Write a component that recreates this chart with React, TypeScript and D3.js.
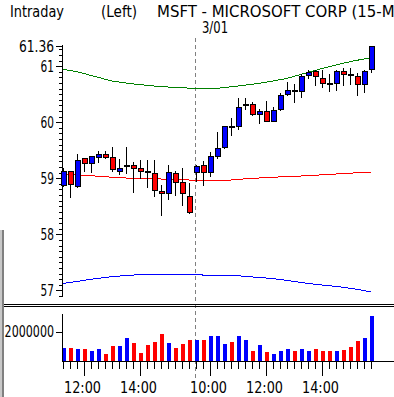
import * as d3 from 'd3'

// 15-minute bars, 2/28 (tail of the session) and 3/01 (full session)
const BAR_TIMES = [
  '02/28 11:15', '02/28 11:30', '02/28 11:45', '02/28 12:00', '02/28 12:15', '02/28 12:30', '02/28 12:45',
  '02/28 13:00', '02/28 13:15', '02/28 13:30', '02/28 13:45', '02/28 14:00', '02/28 14:15', '02/28 14:30',
  '02/28 14:45', '02/28 15:00', '02/28 15:15', '02/28 15:30', '02/28 15:45',
  '03/01 09:30', '03/01 09:45', '03/01 10:00', '03/01 10:15', '03/01 10:30', '03/01 10:45', '03/01 11:00',
  '03/01 11:15', '03/01 11:30', '03/01 11:45', '03/01 12:00', '03/01 12:15', '03/01 12:30', '03/01 12:45',
  '03/01 13:00', '03/01 13:15', '03/01 13:30', '03/01 13:45', '03/01 14:00', '03/01 14:15', '03/01 14:30',
  '03/01 14:45', '03/01 15:00', '03/01 15:15', '03/01 15:30', '03/01 15:45',
]

const OPEN = [
  58.88, 59.12, 58.86, 59.35, 59.27, 59.37, 59.43, 59.37, 59.13, 59.22, 59.22, 59.18, 59.11, 59.09, 58.77,
  58.72, 59.09, 58.93, 58.67,
  59.10, 59.22, 59.10, 59.39, 59.55, 59.91, 59.92, 60.31, 60.31, 60.14, 60.20, 60.01, 60.22, 60.50, 60.56,
  60.54, 60.83, 60.90, 60.78, 60.68, 60.69, 60.91, 60.84, 60.82, 60.68, 60.94,
]
const HIGH = [
  59.19, 59.13, 59.43, 59.37, 59.39, 59.48, 59.48, 59.55, 59.34, 59.55, 59.29, 59.33, 59.33, 59.33, 58.88,
  59.24, 59.13, 59.18, 58.91,
  59.24, 59.31, 59.47, 59.83, 59.93, 60.07, 60.43, 60.44, 60.36, 60.23, 60.38, 60.27, 60.53, 60.71, 60.69,
  60.86, 60.93, 60.94, 60.93, 60.86, 60.94, 60.96, 60.96, 60.88, 60.94, 61.36,
]
const LOW = [
  58.84, 58.64, 58.82, 59.12, 59.09, 59.28, 59.34, 59.12, 59.06, 59.08, 58.74, 58.98, 58.82, 58.67, 58.33,
  58.62, 58.69, 58.51, 58.36,
  58.94, 58.87, 59.03, 59.34, 59.52, 59.75, 59.87, 60.22, 60.11, 59.96, 60.00, 60.00, 60.20, 60.46, 60.34,
  60.44, 60.78, 60.65, 60.61, 60.54, 60.56, 60.65, 60.66, 60.46, 60.53, 60.88,
]
const CLOSE = [
  59.12, 58.89, 59.31, 59.27, 59.38, 59.43, 59.37, 59.15, 59.18, 59.22, 59.17, 59.12, 59.11, 58.79, 58.73,
  59.11, 58.93, 58.72, 58.39,
  59.21, 59.10, 59.39, 59.54, 59.92, 59.91, 60.27, 60.31, 60.14, 60.20, 60.01, 60.21, 60.47, 60.56, 60.56,
  60.82, 60.88, 60.81, 60.69, 60.68, 60.91, 60.86, 60.84, 60.68, 60.91, 61.35,
]
const VOLUME = [
  924000, 924000, 855000, 855000, 669000, 855000, 462000, 1014000, 1014000, 1614000, 1269000, 579000,
  1083000, 1338000, 1841000, 1269000, 924000, 1152000, 1476000,
  1476000, 1476000, 1706000, 1706000, 1200000, 1338000, 1706000, 1476000, 716000, 1083000, 646000, 508000,
  716000, 855000, 716000, 855000, 716000, 855000, 716000, 716000, 716000, 785000, 990000, 1407000, 1614000,
  3085000,
]
// envelope lines: upper (green), middle (red), lower (blue)
const UPPER = [
  60.944, 60.923, 60.901, 60.869, 60.834, 60.802, 60.768, 60.736, 60.718, 60.700, 60.683, 60.670, 60.659,
  60.646, 60.634, 60.629, 60.621, 60.614, 60.609, 60.605, 60.605, 60.605, 60.605, 60.620, 60.632, 60.646,
  60.661, 60.677, 60.693, 60.714, 60.736, 60.759, 60.782, 60.818, 60.853, 60.891, 60.923, 60.959, 60.991,
  61.021, 61.051, 61.080, 61.105, 61.128, 61.151,
]
const MIDDLE = [
  59.076, 59.069, 59.062, 59.053, 59.046, 59.037, 59.028, 59.019, 59.012, 59.005, 59.000, 58.996, 58.992,
  58.991, 58.987, 58.983, 58.980, 58.974, 58.969, 58.967, 58.966, 58.966, 58.966, 58.966, 58.969, 58.980,
  58.991, 59.000, 59.005, 59.010, 59.017, 59.025, 59.030, 59.035, 59.041, 59.048, 59.055, 59.062, 59.069,
  59.076, 59.083, 59.091, 59.098, 59.105, 59.112,
]
const LOWER = [
  57.126, 57.142, 57.160, 57.180, 57.198, 57.214, 57.230, 57.244, 57.255, 57.264, 57.274, 57.280, 57.285,
  57.289, 57.292, 57.292, 57.290, 57.289, 57.287, 57.282, 57.274, 57.271, 57.269, 57.269, 57.267, 57.262,
  57.251, 57.241, 57.230, 57.221, 57.208, 57.196, 57.176, 57.160, 57.142, 57.124, 57.110, 57.096, 57.083,
  57.073, 57.055, 57.037, 57.019, 56.996, 56.971,
]

const PRICE_TICKS = [57, 58, 59, 60, 61, 61.36]
const VOLUME_TICKS = [2000000]
const TIME_TICKS = ['02/28 12:00', '02/28 14:00', '03/01 10:00', '03/01 12:00', '03/01 14:00']
const DAY_START = '03/01 09:30'

const W = 394
const H = 397
const AXIS_X = 62
const VOL_BASE = 361
const BLUE = '#0000ff'
const RED = '#ff0000'
const GREEN = '#008000'
const FONT = "'Liberation Sans Narrow', 'DejaVu Sans Condensed', 'Liberation Sans', sans-serif"
const CHAR_W = 7.2

const fmtPrice = (v: number) => (Number.isInteger(v) ? String(v) : v.toFixed(2))

export default function App() {
  const x = d3.scalePoint<string>().domain(BAR_TIMES).range([63, 371])
  const yP = d3.scaleLinear().domain([56.9, 61.36]).range([296, 46])
  const yV = d3.scaleLinear().domain([0, 2000000]).range([VOL_BASE, 332])

  const band = (vals: number[]) =>
    d3.line<number>()
      .x((_d, i) => x(BAR_TIMES[i])!)
      .y(d => yP(d))(vals) ?? ''

  const minor = yP.ticks(50)

  const volColor = (i: number) => {
    if (CLOSE[i] > OPEN[i]) return BLUE
    if (CLOSE[i] < OPEN[i]) return RED
    return i > 0 && CLOSE[i] > CLOSE[i - 1] ? BLUE : RED
  }

  const dayX = x(DAY_START)! - 0.5

  const txt = (s: string, x0: number, y0: number, len: number, size = 16) => (
    <text x={x0} y={y0} fontSize={size} textLength={len} lengthAdjust="spacingAndGlyphs">{s}</text>
  )

  return (
    <svg width={W} height={H} viewBox={`0 0 ${W} ${H}`}
      style={{ position: 'absolute', left: 0, top: 0, background: '#fff' }}
      fontFamily={FONT} fill="#000">
      <rect width={W} height={H} fill="#fff" />

      {/* header */}
      {txt('Intraday', 10, 17, 54)}
      {txt('(Left)', 101, 17, 36)}
      {txt('MSFT - MICROSOFT CORP (15-Min)', 157, 17, 257)}
      {txt('3/01', 202, 33, 26)}

      {/* day separator */}
      <line x1={dayX} x2={dayX} y1={38} y2={378} stroke="#808080" strokeDasharray="4,3" />

      {/* price axis */}
      <g shapeRendering="crispEdges" stroke="#000">
        <line x1={AXIS_X} x2={AXIS_X} y1={45} y2={297} />
        {minor.map(t => (
          <line key={t} x1={AXIS_X - 3} x2={AXIS_X} y1={Math.round(yP(t)) + 0.5} y2={Math.round(yP(t)) + 0.5} />
        ))}
        {PRICE_TICKS.map(t => (
          <line key={t} x1={AXIS_X - 6} x2={AXIS_X} y1={Math.round(yP(t)) + 0.5} y2={Math.round(yP(t)) + 0.5} />
        ))}
      </g>
      {PRICE_TICKS.map(t => {
        const s = fmtPrice(t)
        const len = s.length * CHAR_W - 1
        return <g key={t}>{txt(s, 54 - len, yP(t) + 6, len)}</g>
      })}

      {/* envelope */}
      <g fill="none" shapeRendering="crispEdges">
        <path d={band(UPPER)} stroke={GREEN} />
        <path d={band(MIDDLE)} stroke={RED} />
        <path d={band(LOWER)} stroke={BLUE} />
      </g>

      {/* candles */}
      <g shapeRendering="crispEdges">
        {BAR_TIMES.map((k, i) => {
          const cx = x(k)!
          const o = OPEN[i], c = CLOSE[i]
          const top = yP(Math.max(o, c)), bot = yP(Math.min(o, c))
          return (
            <g key={k}>
              <line x1={cx + 0.5} x2={cx + 0.5} y1={yP(HIGH[i])} y2={yP(LOW[i])} stroke="#000" />
              {o === c
                ? <line x1={cx - 2.5} x2={cx + 3.5} y1={top} y2={top} stroke="#000" strokeWidth={2} />
                : <rect x={cx - 2} y={top} width={5} height={Math.max(bot - top, 2)}
                    fill={c > o ? BLUE : RED} stroke="#000" />}
            </g>
          )
        })}
      </g>

      {/* panel separator + window edge */}
      <g shapeRendering="crispEdges">
        <line x1={3} x2={W} y1={304.5} y2={304.5} stroke="#000" />
        <line x1={3} x2={W} y1={306.5} y2={306.5} stroke="#000" />
        <rect x={0} y={230} width={2} height={H - 230} fill="#c8c8c8" />
        <rect x={2} y={230} width={1.5} height={H - 230} fill="#808080" />
      </g>

      {/* volume */}
      <g shapeRendering="crispEdges">
        {BAR_TIMES.map((k, i) => (
          <rect key={k} x={x(k)! - 1.5} y={yV(VOLUME[i])} width={4} height={VOL_BASE - yV(VOLUME[i])}
            fill={volColor(i)} />
        ))}
        <line x1={AXIS_X} x2={AXIS_X} y1={314} y2={VOL_BASE} stroke="#000" />
        <line x1={AXIS_X} x2={W} y1={VOL_BASE + 0.5} y2={VOL_BASE + 0.5} stroke="#000" />
        {VOLUME_TICKS.map(t => (
          <line key={t} x1={AXIS_X - 6} x2={AXIS_X} y1={Math.round(yV(t)) + 0.5} y2={Math.round(yV(t)) + 0.5} stroke="#000" />
        ))}
        {BAR_TIMES.map(k => (
          <line key={k} x1={x(k)! + 0.5} x2={x(k)! + 0.5} y1={VOL_BASE} y2={TIME_TICKS.includes(k) ? 376 : 369} stroke="#000" />
        ))}
      </g>
      {VOLUME_TICKS.map(t => {
        const s = String(t)
        const len = s.length * CHAR_W - 1
        return <g key={t}>{txt(s, 54 - len, yV(t) + 5, len)}</g>
      })}
      {TIME_TICKS.map(k => {
        const s = k.slice(6)
        return <g key={k}>{txt(s, x(k)! - 20, 393, 37)}</g>
      })}
    </svg>
  )
}
